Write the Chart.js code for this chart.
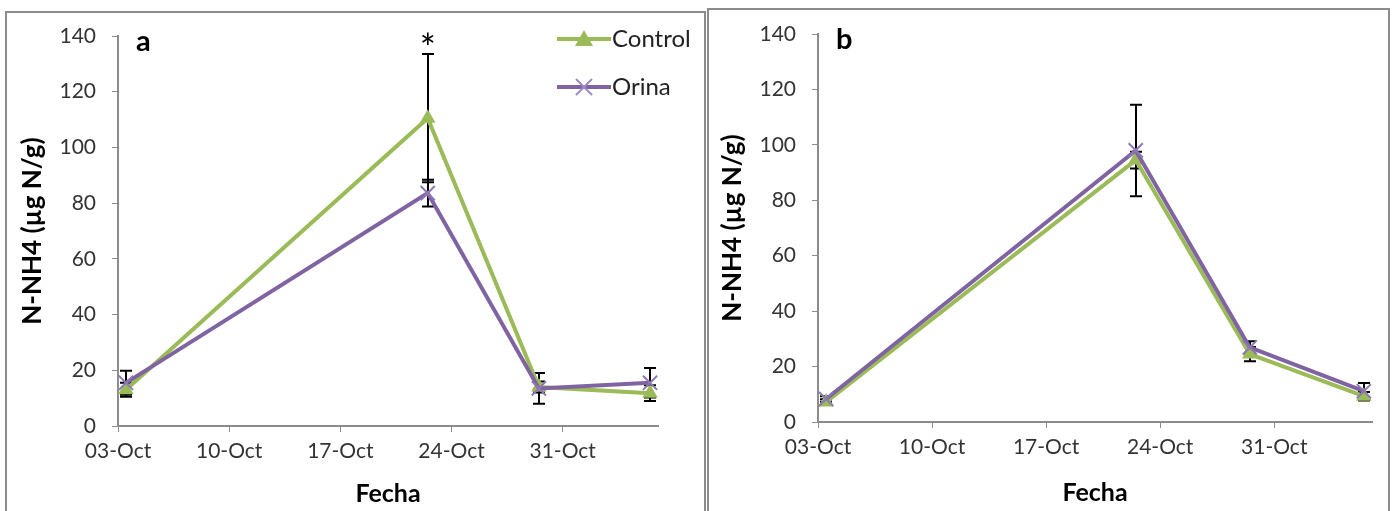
<!DOCTYPE html>
<html>
<head>
<meta charset="utf-8">
<script src="https://cdn.jsdelivr.net/npm/chart.js@4.4.0/dist/chart.umd.min.js"></script>
<style>
html, body { margin: 0; padding: 0; background: #fff; }
body { width: 1394px; height: 511px; position: relative; overflow: hidden; }
.panel { position: absolute; top: 0; height: 511px; }
.frame { position: absolute; border: 2px solid #8c8c8c; pointer-events: none; }
</style>
</head>
<body>
<div class="panel" style="left:0;width:700px"><canvas id="chartA"></canvas></div>
<div class="panel" style="left:700px;width:694px"><canvas id="chartB"></canvas></div>
<div class="frame" style="left:5px;top:11px;width:697px;height:520px"></div>
<div class="frame" style="left:707px;top:8px;width:679px;height:520px"></div>
<script>
// days after 03-Oct for each sampling date
const dayOffsets = [0, 19, 26, 33];
const tickDays = [0, 7, 14, 21, 28];
const tickLabels = ['03-Oct', '10-Oct', '17-Oct', '24-Oct', '31-Oct'];

// panel a
const controlA = [13, 110.5, 14, 11.8];
const orinaA = [15.5, 83.6, 13.5, 15.5];
const controlErrA = [2.5, 23, 2, 2.8];
const orinaErrA = [4.3, 4.8, 5.5, 5.3];

// panel b
const controlB = [7.2, 94.5, 24.5, 9.3];
const orinaB = [8.3, 98, 26.9, 11.1];
const controlErrB = [1, 3, 2.6, 1.5];
const orinaErrB = [1, 16.5, 2.2, 3];

const GREEN = '#9bbb59';
const PURPLE = '#8064a2';
const FONT = 'Lato, "Open Sans", sans-serif';

const pts = vals => vals.map((v, i) => ({ x: dayOffsets[i] + 0.5, y: v }));

const errorBars = {
  id: 'errorBars',
  beforeDatasetsDraw(chart, args, opts) {
    const { ctx, scales: { x, y } } = chart;
    ctx.save();
    ctx.strokeStyle = '#000';
    ctx.lineWidth = 2;
    opts.sets.forEach(s => {
      s.vals.forEach((v, i) => {
        const e = s.err[i];
        const px = Math.round(x.getPixelForValue(dayOffsets[i] + 0.5));
        const top = y.getPixelForValue(v + e), bot = y.getPixelForValue(v - e);
        ctx.beginPath();
        ctx.moveTo(px, top); ctx.lineTo(px, bot);
        ctx.moveTo(px - 6, top); ctx.lineTo(px + 6, top);
        ctx.moveTo(px - 6, bot); ctx.lineTo(px + 6, bot);
        ctx.stroke();
      });
    });
    ctx.restore();
  }
};

const extras = {
  id: 'extras',
  afterDraw(chart, args, opts) {
    const { ctx, chartArea, scales: { x, y } } = chart;
    ctx.save();
    ctx.fillStyle = '#000';
    ctx.font = 'bold 29px ' + FONT;
    ctx.textBaseline = 'middle';
    ctx.textAlign = 'left';
    ctx.fillText(opts.letter, chartArea.left + 18, chartArea.top + 6);
    if (opts.star) {
      const s = opts.star;
      ctx.font = '38px ' + FONT;
      ctx.textAlign = 'center';
      ctx.fillText('*', x.getPixelForValue(dayOffsets[s.i] + 0.5), y.getPixelForValue(s.v) - 4);
    }
    if (opts.legend) {
      const rows = [
        { label: 'Control', color: GREEN, marker: 'tri' },
        { label: 'Orina', color: PURPLE, marker: 'x' }
      ];
      rows.forEach((r, k) => {
        const yy = chartArea.top + 3 + k * 48;
        const x0 = chartArea.right - 101, x1 = chartArea.right - 47;
        const cx = (x0 + x1) / 2;
        ctx.strokeStyle = r.color;
        ctx.lineWidth = 4;
        ctx.beginPath(); ctx.moveTo(x0, yy); ctx.lineTo(x1, yy); ctx.stroke();
        if (r.marker === 'tri') {
          ctx.fillStyle = r.color;
          ctx.beginPath();
          ctx.moveTo(cx, yy - 9); ctx.lineTo(cx + 9, yy + 7); ctx.lineTo(cx - 9, yy + 7);
          ctx.closePath(); ctx.fill();
        } else {
          ctx.strokeStyle = '#9d8bc4';
          ctx.lineWidth = 2;
          ctx.beginPath();
          ctx.moveTo(cx - 8, yy - 8); ctx.lineTo(cx + 8, yy + 8);
          ctx.moveTo(cx + 8, yy - 8); ctx.lineTo(cx - 8, yy + 8);
          ctx.stroke();
        }
        ctx.fillStyle = '#222';
        ctx.font = '24px ' + FONT;
        ctx.textAlign = 'left';
        ctx.fillText(r.label, x1 + 1, yy);
      });
    }
    ctx.restore();
  }
};

function makePanel(id, ctrl, orina, ctrlErr, orinaErr, lay, extra) {
  new Chart(document.getElementById(id), {
    type: 'line',
    data: {
      datasets: [
        { label: 'Control', data: pts(ctrl), borderColor: GREEN, backgroundColor: GREEN,
          borderWidth: 4, pointStyle: 'triangle', pointRadius: 9, pointBorderWidth: 0, order: 2 },
        { label: 'Orina', data: pts(orina), borderColor: PURPLE, backgroundColor: PURPLE,
          borderWidth: 4, pointStyle: 'crossRot', pointRadius: 10, pointBorderWidth: 2,
          pointBorderColor: '#8e78b4', order: 1 }
      ]
    },
    options: {
      responsive: false,
      animation: false,
      layout: { padding: { left: 0, top: lay.top, right: lay.right, bottom: 0 } },
      plugins: {
        legend: { display: false },
        tooltip: { enabled: false },
        errorBars: { sets: [{ vals: ctrl, err: ctrlErr }, { vals: orina, err: orinaErr }] },
        extras: extra
      },
      scales: {
        x: {
          type: 'linear', min: 0, max: 34,
          afterFit: s => { s.height = lay.xh; },
          afterBuildTicks: s => { s.ticks = tickDays.map(v => ({ value: v })); },
          grid: { drawOnChartArea: false, color: '#8c8c8c', tickLength: 6, lineWidth: 1 },
          border: { color: '#8c8c8c', width: 2 },
          ticks: { color: '#333', font: { family: FONT, size: 21 }, padding: 7, maxRotation: 0,
            callback: v => tickLabels[tickDays.indexOf(v)] },
          title: { display: true, text: 'Fecha', color: '#000',
            font: { family: FONT, size: 25, weight: 'bold' }, padding: { top: 0, bottom: lay.tb } }
        },
        y: {
          min: 0, max: 140,
          afterFit: s => { s.width = 118; },
          grid: { drawOnChartArea: false, color: '#8c8c8c', tickLength: 6, lineWidth: 1 },
          border: { color: '#8c8c8c', width: 2 },
          ticks: { stepSize: 20, color: '#333', font: { family: FONT, size: 21 }, padding: 16 },
          title: { display: true, text: 'N-NH4 (µg N/g)', color: '#000',
            font: { family: FONT, size: 26, weight: 'bold' }, padding: { top: 17, bottom: 0 } }
        }
      }
    },
    plugins: [errorBars, extras]
  });
}

const cA = document.getElementById('chartA'); cA.width = 700; cA.height = 511;
const cB = document.getElementById('chartB'); cB.width = 694; cB.height = 511;

makePanel('chartA', controlA, orinaA, controlErrA, orinaErrA,
  { top: 36, right: 42, xh: 85, tb: 2 },
  { letter: 'a', legend: true, star: { i: 1, v: controlA[1] + controlErrA[1] } });
makePanel('chartB', controlB, orinaB, controlErrB, orinaErrB,
  { top: 34, right: 22, xh: 89, tb: 3 },
  { letter: 'b', legend: false });
</script>
</body>
</html>
